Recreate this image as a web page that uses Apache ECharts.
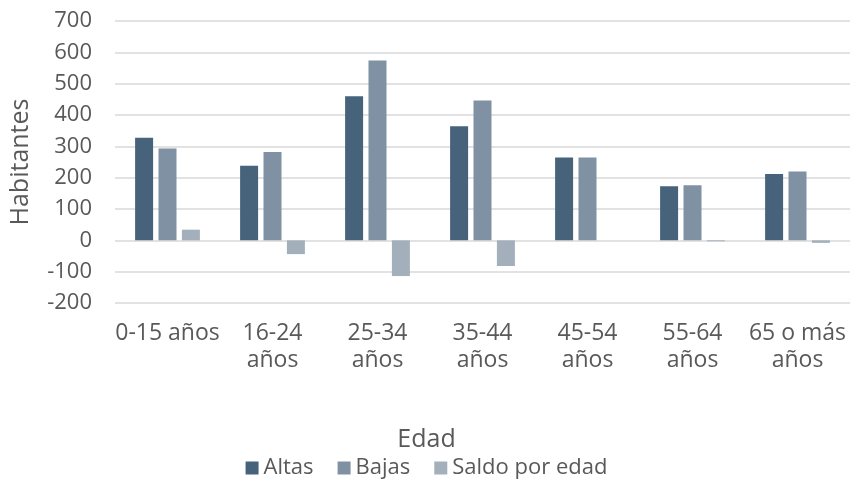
<!DOCTYPE html>
<html>
<head>
<meta charset="utf-8">
<script src="https://cdn.jsdelivr.net/npm/echarts@6/dist/echarts.min.js"></script>
<style>
  html, body { margin: 0; padding: 0; background: #fff; }
  #chart { width: 853px; height: 481px; }
</style>
</head>
<body>
<div id="chart"></div>
<script>
// Age groups and residents registered / deregistered per group
var categories = ['0-15 años', '16-24 años', '25-34 años', '35-44 años', '45-54 años', '55-64 años', '65 o más años'];
var altas = [327, 238, 460, 364, 264, 173, 212];
var bajas = [293, 282, 574, 446, 264, 176, 220];
var saldo = [34, -44, -114, -82, 0, -3, -8];
var yTicks = { min: -200, max: 700, interval: 100 };

var FONT = '"Open Sans", "DejaVu Sans", sans-serif';
var TEXT = '#595959';

var chart = echarts.init(document.getElementById('chart'), null, { renderer: 'canvas' });

// Long labels wrap onto two lines at the last space
function wrapLabel(v) {
  if (v.length <= 9) return v;
  var i = v.lastIndexOf(' ');
  return v.slice(0, i) + '\n' + v.slice(i + 1);
}

chart.setOption({
  animation: false,
  color: ['#46637B', '#7F91A2', '#A3AFBB'],
  textStyle: { fontFamily: FONT },
  title: {
    text: 'Edad',
    left: 'center',
    top: 422,
    textStyle: { fontFamily: FONT, fontSize: 25, fontWeight: 'normal', color: TEXT }
  },
  legend: {
    top: 452,
    left: 'center',
    itemWidth: 13,
    itemHeight: 13,
    itemGap: 24,
    icon: 'rect',
    textStyle: { fontFamily: FONT, fontSize: 22, color: TEXT, padding: [0, 0, 0, 0] },
    data: ['Altas', 'Bajas', 'Saldo por edad']
  },
  grid: { left: 113, right: 3, top: 21, bottom: 178, containLabel: false },
  xAxis: {
    type: 'category',
    data: categories,
    axisLine: { show: false },
    axisTick: { show: false },
    axisLabel: {
      interval: 0,
      margin: 17,
      fontFamily: FONT,
      fontSize: 23,
      lineHeight: 27,
      color: TEXT,
      formatter: wrapLabel
    }
  },
  yAxis: {
    type: 'value',
    min: yTicks.min,
    max: yTicks.max,
    interval: yTicks.interval,
    name: 'Habitantes',
    nameLocation: 'middle',
    nameGap: 82,
    nameRotate: 90,
    nameTextStyle: { fontFamily: FONT, fontSize: 25, color: TEXT },
    axisLine: { show: false },
    axisTick: { show: false },
    axisLabel: { fontFamily: FONT, fontSize: 22, color: TEXT, margin: 23 },
    splitLine: { lineStyle: { color: '#d9d9d9', width: 1.5 } }
  },
  series: [
    { name: 'Altas', type: 'bar', data: altas, barWidth: 18, barGap: '30%' },
    { name: 'Bajas', type: 'bar', data: bajas, barWidth: 18, barGap: '30%' },
    { name: 'Saldo por edad', type: 'bar', data: saldo, barWidth: 18, barGap: '30%' }
  ]
});
</script>
</body>
</html>
